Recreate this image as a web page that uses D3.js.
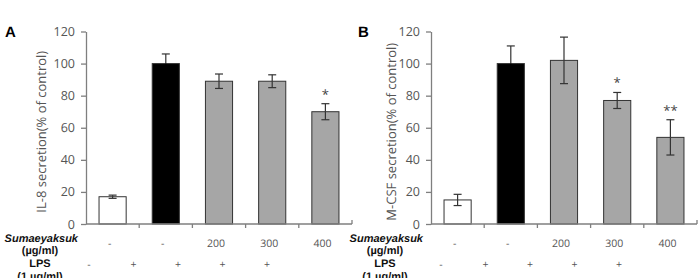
<!DOCTYPE html>
<html>
<head>
<meta charset="utf-8">
<script src="https://cdn.jsdelivr.net/npm/d3@7"></script>
<style>
  body { margin: 0; background: #fff; }
  svg { display: block; font-family: "Open Sans", "Noto Sans", sans-serif; text-rendering: geometricPrecision; }
</style>
</head>
<body>
<div id="chart"></div>
<script>
// Groups (bars), shared by both panels
const groups = ['ctrl', 'lps', 's200', 's300', 's400'];
const sumaLabels = ['-', '-', '200', '300', '400'];
const lpsLabels = ['-', '+', '+', '+', '+'];
const barFills = ['#ffffff', '#000000', '#a6a6a6', '#a6a6a6', '#a6a6a6'];
const yTicks = [0, 20, 40, 60, 80, 100, 120];

// Panel A: IL-8
const il8Values = [17, 100, 89, 89, 70];
const il8Errors = [1, 6, 4.5, 4, 5];
const il8Stars = ['', '', '', '', '*'];

// Panel B: M-CSF
const mcsfValues = [15, 100, 102, 77, 54];
const mcsfErrors = [3.5, 11, 14.5, 5, 11];
const mcsfStars = ['', '', '', '*', '**'];

const width = 700, height = 278;
const svg = d3.select('#chart').append('svg')
    .attr('width', width)
    .attr('height', height);

function drawPanel(opts) {
    const {letter, letterX, axisX, axisEnd, values, errors, stars, title, titleX, lpsOffset} = opts;
    const top = 31.5, bottom = 224;

    const y = d3.scaleLinear().domain([0, 120]).range([bottom, top]);
    const x = d3.scaleBand().domain(groups).range([axisX, axisEnd]).paddingInner(0.49).paddingOuter(0.245);
    const g = svg.append('g');

    // Bars
    g.selectAll('.bar')
        .data(values)
        .enter()
        .append('rect')
        .attr('x', (d, i) => x(groups[i]))
        .attr('y', d => y(d))
        .attr('width', x.bandwidth())
        .attr('height', d => y(0) - y(d))
        .attr('fill', (d, i) => barFills[i])
        .attr('stroke', '#333')
        .attr('stroke-width', 1);

    // Error bars (lower half hidden inside the black bar, as in the original)
    const cx = i => x(groups[i]) + x.bandwidth() / 2;
    const errColor = i => barFills[i] === '#000000' ? '#000' : '#333';
    const eb = g.selectAll('.err')
        .data(values)
        .enter()
        .append('g')
        .attr('stroke-width', 1.2);
    eb.append('line')
        .attr('stroke', '#333')
        .attr('x1', (d, i) => cx(i)).attr('x2', (d, i) => cx(i))
        .attr('y1', d => y(d)).attr('y2', (d, i) => y(d + errors[i]));
    eb.append('line')
        .attr('stroke', (d, i) => errColor(i))
        .attr('x1', (d, i) => cx(i)).attr('x2', (d, i) => cx(i))
        .attr('y1', (d, i) => y(d - errors[i])).attr('y2', d => y(d));
    eb.append('line')
        .attr('stroke', '#333')
        .attr('x1', (d, i) => cx(i) - 4).attr('x2', (d, i) => cx(i) + 4)
        .attr('y1', (d, i) => y(d + errors[i])).attr('y2', (d, i) => y(d + errors[i]));
    eb.append('line')
        .attr('stroke', (d, i) => errColor(i))
        .attr('x1', (d, i) => cx(i) - 4).attr('x2', (d, i) => cx(i) + 4)
        .attr('y1', (d, i) => y(d - errors[i])).attr('y2', (d, i) => y(d - errors[i]));

    // Significance stars
    g.selectAll('.star')
        .data(values)
        .enter()
        .append('text')
        .attr('x', (d, i) => cx(i))
        .attr('y', (d, i) => y(d + errors[i]) - 5)
        .attr('text-anchor', 'middle')
        .attr('font-size', '13px')
        .attr('fill', '#444')
        .text((d, i) => stars[i]);

    // Y axis
    g.append('g')
        .attr('transform', `translate(${axisX},0)`)
        .call(d3.axisLeft(y).tickValues(yTicks).tickSize(5).tickPadding(6).tickSizeOuter(0))
        .call(a => a.select('.domain').attr('stroke', '#7f7f7f').attr('stroke-width', 1.3))
        .call(a => a.selectAll('line').attr('stroke', '#7f7f7f').attr('stroke-width', 1.3))
        .call(a => a.selectAll('text').attr('font-size', '12.5px').attr('fill', '#555').attr('font-family', '"Open Sans", sans-serif'));

    // X axis: baseline with ticks between groups
    const xa = g.append('g');
    xa.append('line')
        .attr('x1', axisX).attr('x2', axisEnd)
        .attr('y1', y(0)).attr('y2', y(0))
        .attr('stroke', '#7f7f7f').attr('stroke-width', 1.3);
    xa.selectAll('.xt')
        .data(groups.slice(1))
        .enter()
        .append('line')
        .attr('x1', d => x(d) - x.step() * x.paddingInner() / 2)
        .attr('x2', d => x(d) - x.step() * x.paddingInner() / 2)
        .attr('y1', y(0)).attr('y2', y(0) + 4)
        .attr('stroke', '#7f7f7f').attr('stroke-width', 1.3);
    xa.append('line')
        .attr('x1', axisEnd).attr('x2', axisEnd)
        .attr('y1', y(0)).attr('y2', y(0) - 4)
        .attr('stroke', '#7f7f7f').attr('stroke-width', 1.3);

    // Y title
    g.append('text')
        .attr('transform', `translate(${titleX},${(top + bottom) / 2 + 4}) rotate(-90)`)
        .attr('text-anchor', 'middle')
        .attr('font-size', '13px')
        .attr('fill', '#555')
        .text(title);

    // Panel letter
    g.append('text')
        .attr('x', letterX).attr('y', 37)
        .attr('font-size', '15px')
        .attr('font-weight', 'bold')
        .attr('font-family', 'Arial, "Liberation Sans", sans-serif')
        .text(letter);

    // Treatment labels
    const lab = g.append('g')
        .attr('font-family', 'Arial, "Liberation Sans", sans-serif')
        .attr('font-weight', 'bold')
        .attr('font-size', '11px')
        .attr('fill', '#111');
    const lx = axisX - 8;
    lab.append('text').attr('x', lx).attr('y', 242).attr('text-anchor', 'end')
        .attr('font-style', 'italic').text('Sumaeyaksuk');
    lab.append('text').attr('x', lx - 38).attr('y', 254).attr('text-anchor', 'middle').text('(µg/ml)');
    lab.append('text').attr('x', lx - 38).attr('y', 267).attr('text-anchor', 'middle').text('LPS');
    lab.append('text').attr('x', lx - 38).attr('y', 280).attr('text-anchor', 'middle').text('(1  µg/ml)');

    g.selectAll('.sl')
        .data(sumaLabels)
        .enter()
        .append('text')
        .attr('x', (d, i) => cx(i) - 3)
        .attr('y', 247)
        .attr('text-anchor', 'middle')
        .attr('font-size', '10.5px')
        .attr('fill', '#555')
        .text(d => d);

    const lpsX = d3.scalePoint().domain(groups).range([axisX + lpsOffset, axisX + lpsOffset + 178]);
    g.selectAll('.ll')
        .data(lpsLabels)
        .enter()
        .append('text')
        .attr('x', (d, i) => lpsX(groups[i]))
        .attr('y', 268)
        .attr('text-anchor', 'middle')
        .attr('font-size', '10.5px')
        .attr('fill', '#555')
        .text(d => d);
}

drawPanel({letter: 'A', letterX: 5, axisX: 86, axisEnd: 352, values: il8Values, errors: il8Errors,
    stars: il8Stars, title: 'IL-8 secretion(% of control)', titleX: 46, lpsOffset: 3});
drawPanel({letter: 'B', letterX: 358, axisX: 431, axisEnd: 697, values: mcsfValues, errors: mcsfErrors,
    stars: mcsfStars, title: 'M-CSF secretion(% of control)', titleX: 396, lpsOffset: 10});
</script>
</body>
</html>
